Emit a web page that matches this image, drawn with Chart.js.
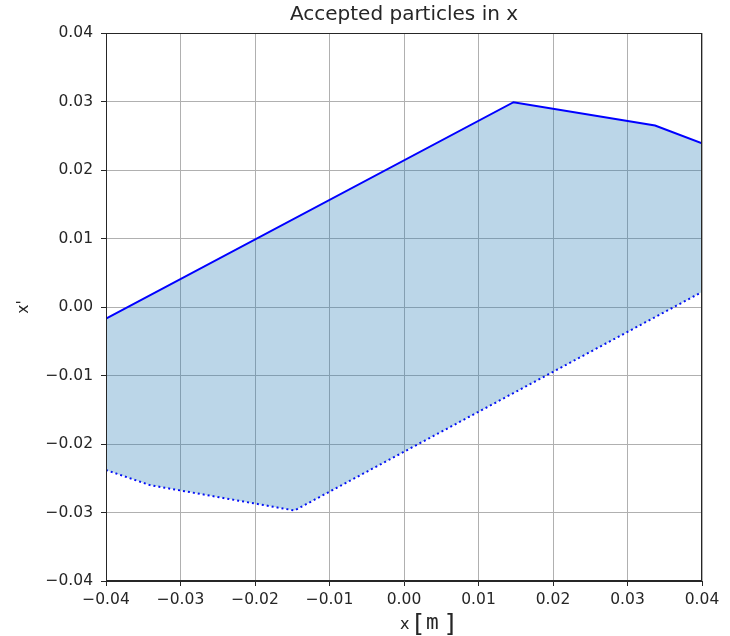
<!DOCTYPE html>
<html>
<head>
<meta charset="utf-8">
<script src="https://cdn.jsdelivr.net/npm/chart.js@4"></script>
<style>
  html, body { margin: 0; padding: 0; background: #fff; }
</style>
</head>
<body>
<canvas id="chart" width="730" height="636"></canvas>
<script>
// Acceptance boundary
const upperX = [-0.04, 0.0147, 0.0337, 0.04];
const upperY = [-0.0017, 0.0299, 0.0265, 0.0239];
const lowerX = [-0.04, -0.0341, -0.0147, 0.04];
const lowerY = [-0.0238, -0.0260, -0.0297, 0.0022];

const xTicks = [-0.04, -0.03, -0.02, -0.01, 0.00, 0.01, 0.02, 0.03, 0.04];
const yTicks = [-0.04, -0.03, -0.02, -0.01, 0.00, 0.01, 0.02, 0.03, 0.04];

const titleText = 'Accepted particles in x';

function toPoints(xs, ys) {
    return xs.map((x, i) => ({ x: x, y: ys[i] }));
}

function fmt(v) {
    return v.toFixed(2).replace('-', '\u2212');
}

const font = "'DejaVu Sans', sans-serif";
const textColor = '#262626';

// frame on all four sides, title centred over the axes, "x [m]" label
const extras = {
    id: 'extras',
    afterDraw(chart) {
        const a = chart.chartArea;
        const ctx = chart.ctx;
        const cx = (a.left + a.right) / 2;
        ctx.save();
        ctx.strokeStyle = '#262626';
        ctx.lineWidth = 1;
        ctx.strokeRect(a.left + 0.5, a.top + 0.5, a.right - a.left - 1, a.bottom - a.top - 1);

        ctx.fillStyle = textColor;
        ctx.textBaseline = 'alphabetic';
        ctx.textAlign = 'center';
        ctx.font = "20px 'DejaVu Sans'";
        ctx.fillText(titleText, cx, 20);

        const y = 629;
        ctx.textAlign = 'left';
        ctx.font = "16px 'DejaVu Sans'";
        ctx.fillText('x', cx - 4, y);
        ctx.font = "25px 'DejaVu Sans'";
        ctx.fillText('[', cx + 10, y + 3);
        ctx.font = "21px 'DejaVu Sans Mono'";
        ctx.fillText('m', cx + 22, y);
        ctx.font = "25px 'DejaVu Sans'";
        ctx.fillText(']', cx + 41, y + 3);
        ctx.restore();
    }
};

const ctx = document.getElementById('chart').getContext('2d');
new Chart(ctx, {
    type: 'scatter',
    data: {
        datasets: [{
            data: toPoints(upperX, upperY),
            showLine: true,
            borderColor: '#0000ff',
            borderWidth: 2,
            pointRadius: 0,
            tension: 0,
            fill: '+1',
            backgroundColor: 'rgba(31, 119, 180, 0.3)'
        }, {
            data: toPoints(lowerX, lowerY),
            showLine: true,
            borderColor: '#0000ff',
            borderWidth: 2,
            borderDash: [2, 3],
            pointRadius: 0,
            tension: 0,
            fill: false
        }]
    },
    options: {
        responsive: false,
        animation: false,
        layout: { padding: { left: 0, right: 28, top: 33, bottom: 0 } },
        plugins: {
            legend: { display: false },
            tooltip: { enabled: false },
            title: { display: false }
        },
        scales: {
            x: {
                type: 'linear',
                min: -0.04,
                max: 0.04,
                afterBuildTicks: s => { s.ticks = xTicks.map(v => ({ value: v })); },
                afterFit: s => { s.height = 55; },
                ticks: {
                    color: textColor,
                    font: { family: font, size: 15.5 },
                    padding: 5,
                    maxRotation: 0,
                    callback: v => fmt(v)
                },
                grid: { color: '#b0b0b0', lineWidth: 1, tickLength: 5, tickColor: '#262626' },
                border: { color: '#262626' }
            },
            y: {
                type: 'linear',
                min: -0.04,
                max: 0.04,
                afterBuildTicks: s => { s.ticks = yTicks.map(v => ({ value: v })); },
                afterFit: s => { s.width = 106; },
                ticks: {
                    color: textColor,
                    font: { family: font, size: 15.5 },
                    padding: 8,
                    callback: v => fmt(v)
                },
                grid: { color: '#b0b0b0', lineWidth: 1, tickLength: 5, tickColor: '#262626' },
                border: { color: '#262626' },
                title: {
                    display: true,
                    text: "x'",
                    color: textColor,
                    font: { family: font, size: 15.5 },
                    padding: { top: 15, bottom: 0 }
                }
            }
        }
    },
    plugins: [extras]
});
</script>
</body>
</html>
